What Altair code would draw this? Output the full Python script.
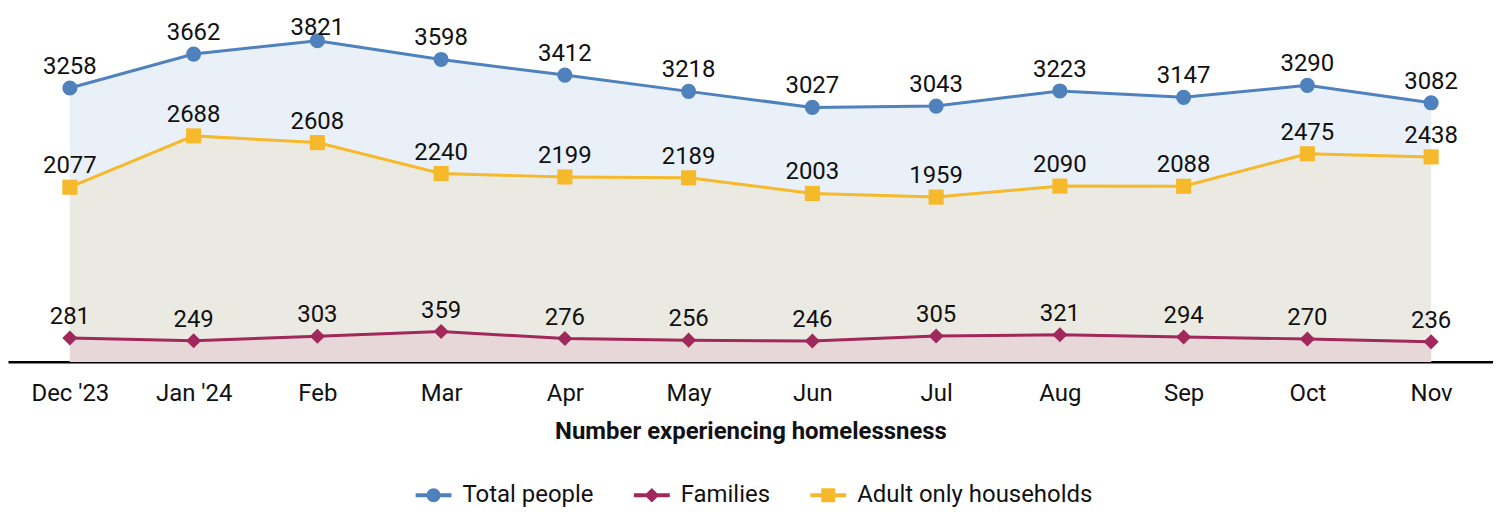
import altair as alt
import pandas as pd

months = ["Dec '23", "Jan '24", "Feb", "Mar", "Apr", "May", "Jun", "Jul", "Aug", "Sep", "Oct", "Nov"]
total_people = [3258, 3662, 3821, 3598, 3412, 3218, 3027, 3043, 3223, 3147, 3290, 3082]
families = [281, 249, 303, 359, 276, 256, 246, 305, 321, 294, 270, 236]
adult_only = [2077, 2688, 2608, 2240, 2199, 2189, 2003, 1959, 2090, 2088, 2475, 2438]

series_names = ["Total people", "Families", "Adult only households"]
line_colors = ["#4F81BD", "#A0285A", "#F6B92B"]
area_colors = ["#EAF0F8", "#E7D7D8", "#EBEAE2"]
marker_shapes = ["circle", "diamond", "square"]
draw_order = [0, 2, 1]  # areas: total, adult, families on top

values = [total_people, families, adult_only]
rows = []
for si, name in enumerate(series_names):
    for m, v in zip(months, values[si]):
        rows.append({
            "month": m, "value": v, "series": name,
            "lc": line_colors[si], "ac": area_colors[si],
            "shape": marker_shapes[si],
        })
df = pd.DataFrame(rows)

FONT = "Roboto"
FS = 24
Y_MAX = 4153
LABEL_CAP = 3720  # labels near the top are kept inside the plot

x = alt.X("month:N", sort=months, scale=alt.Scale(type="point", padding=0.5),
          axis=alt.Axis(title="Number experiencing homelessness", labelAngle=0,
                        ticks=False, domainColor="#000000", domainWidth=2.5,
                        labelFont=FONT, labelFontSize=FS, labelColor="#111111",
                        labelPadding=20, titleFont=FONT, titleFontSize=FS,
                        titleFontWeight="bold", titleColor="#111111", titlePadding=14))
y = alt.Y("value:Q", scale=alt.Scale(domain=[0, Y_MAX], nice=False), axis=None)

base = alt.Chart(df)

areas = []
for si in draw_order:
    areas.append(
        base.transform_filter(alt.datum.series == series_names[si])
        .mark_area(opacity=1)
        .encode(x=x, y=y, fill=alt.Fill("ac:N", scale=None))
    )

lines = base.mark_line(strokeWidth=3).encode(
    x=x, y=y, detail="series:N", stroke=alt.Stroke("lc:N", scale=None)
)

points = base.mark_point(filled=True, size=230, opacity=1).encode(
    x=x, y=y, fill=alt.Fill("lc:N", scale=None), shape=alt.Shape("shape:N", scale=None)
)

labels = base.transform_calculate(
    ly=f"min(datum.value, {LABEL_CAP})"
).mark_text(font=FONT, fontSize=FS, dy=-14, baseline="alphabetic",
            color="#111111").encode(x=x, y=alt.Y("ly:Q", axis=None), text="value:Q")

paths = [
    "M-2.57,-0.28H2.57V0.28H-2.57Z M-1,0A1,1 0 1,1 1,0A1,1 0 1,1 -1,0Z",
    "M-2.57,-0.28H2.57V0.28H-2.57Z M0,-1.05L1.05,0L0,1.05L-1.05,0Z",
    "M-2.57,-0.28H2.57V0.28H-2.57Z M-1,-1H1V1H-1Z",
]

legend_layer = base.mark_point(filled=True, size=196, opacity=0).encode(
    x=x, y=y,
    color=alt.Color("series:N", scale=alt.Scale(domain=series_names, range=line_colors),
                    legend=alt.Legend(title=None, orient="none", direction="horizontal",
                                      legendX=415, legendY=472,
                                      symbolOpacity=1, symbolSize=196, symbolStrokeWidth=0,
                                      labelFont=FONT, labelFontSize=FS, labelColor="#111111",
                                      labelLimit=0, labelOffset=17, columnPadding=40)),
    shape=alt.Shape("series:N", scale=alt.Scale(domain=series_names, range=paths)),
)

chart = alt.layer(*areas, lines, points, labels, legend_layer).properties(
    width=1490, height=350, autosize=alt.AutoSizeParams(type="none"),
    padding={"left": 0, "right": 0, "top": 4, "bottom": 150}
).configure_view(stroke=None)

chart.save("out.html", embed_options={"renderer": "svg", "actions": False})
